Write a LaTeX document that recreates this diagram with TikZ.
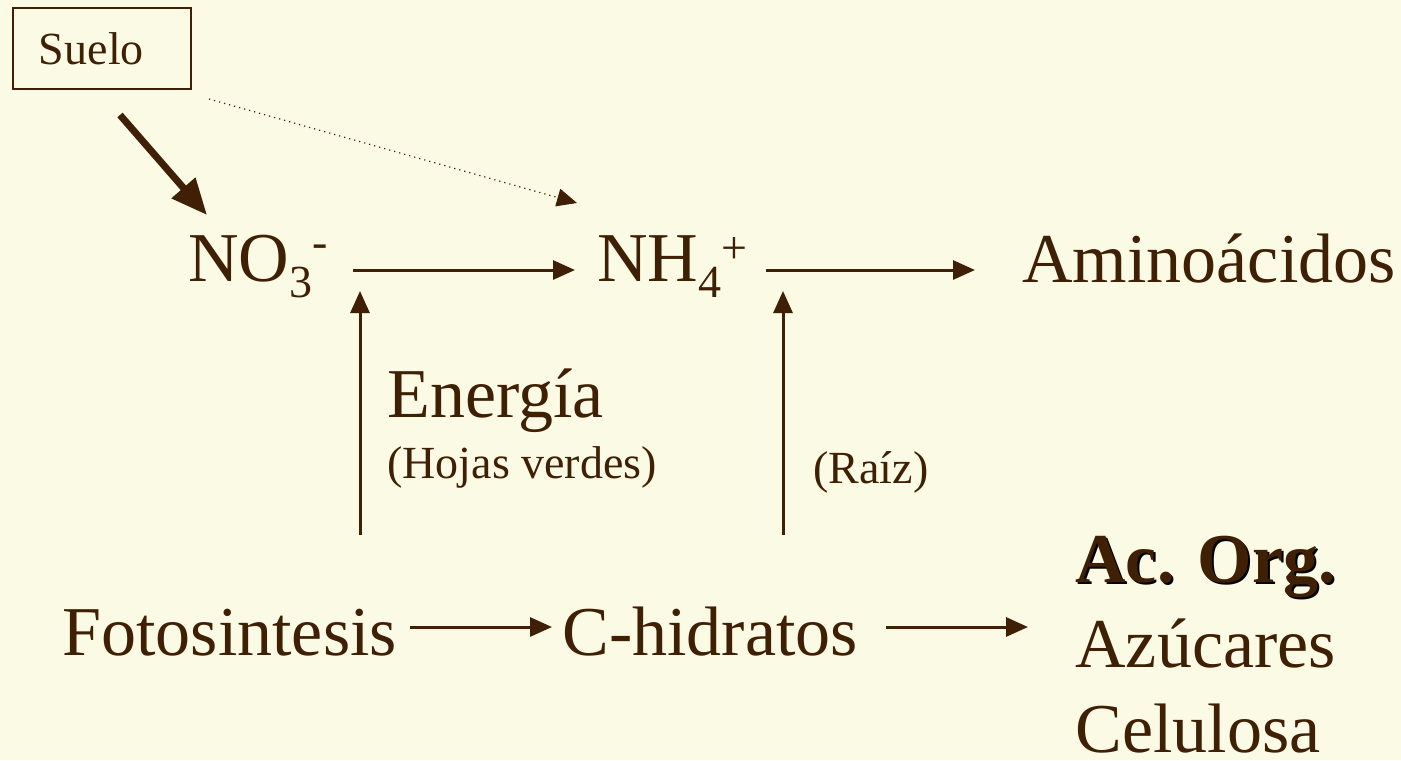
\documentclass[tikz,border=0pt]{standalone}
\usepackage{fontspec}
\setmainfont{Liberation Serif}
\usetikzlibrary{arrows.meta,calc}
\definecolor{bg}{RGB}{251,250,228}
\definecolor{ink}{RGB}{64,32,4}
\newcommand\mysub[1]{\raisebox{-0.23em}{\fontsize{23}{23}\selectfont #1}}
\newcommand\mysup[2]{\raisebox{#1}{\fontsize{23}{23}\selectfont #2}}
\begin{document}
\begin{tikzpicture}[x=0.5pt,y=-0.5pt,
  lbl/.style={anchor=base west, inner sep=0pt, text=ink, font=\fontsize{35}{42}\selectfont},
  small/.style={anchor=base west, inner sep=0pt, text=ink, font=\fontsize{23}{28}\selectfont},
  arr/.style={draw=ink, line width=1.5pt, -{Triangle[length=11pt,width=9.5pt]}},
  thickarr/.style={draw=ink, line width=3.5pt, -{Triangle[length=18pt,width=15pt]}},
  dotarr/.style={draw=ink, line width=0.6pt, dotted, -{Triangle[length=10pt,width=9pt]}},
  boxnode/.style={draw=ink, line width=1pt, anchor=north west, text=ink,
    font=\fontsize{23}{28}\selectfont, text width=63pt, inner xsep=13pt, inner ysep=0pt,
    minimum height=40.5pt, align=left}
]
\fill[bg] (0,0) rectangle (1401,760);
\useasboundingbox (0,0) rectangle (1401,760);

\node[boxnode] (suelo) at (12,7) {Suelo};

\node[lbl] (no3) at (188,281) {NO\mysub{3}\mysup{0.33em}{-}};
\node[lbl] (nh4) at (597,281) {NH\mysub{4}\mysup{0.25em}{+}};
\node[lbl] (amino) at (1022,282) {Aminoácidos};

\node[lbl] (energia) at (387,417) {Energía};
\node[small] (hojas) at (387,478) {(Hojas verdes)};
\node[small] (raiz) at (813,483) {(Raíz)};

\node[lbl] (foto) at (62,655) {Fotosintesis};
\node[lbl] (chid) at (562,655) {C-hidratos};

\node[lbl, text=black, font=\fontsize{35}{42}\selectfont\bfseries] (acshadow) at (1077,584) {Ac. Org.};
\node[lbl, font=\fontsize{35}{42}\selectfont\bfseries] (acorg) at (1075,582) {Ac. Org.};
\node[lbl] (azu) at (1075,667) {Azúcares};
\node[lbl] (celu) at (1075,752) {Celulosa};

% connectors
\draw[thickarr] ($(suelo.south west)+(108,25)$) -- ($(no3.base west)+(19,-66)$);
\draw[dotarr] ($(suelo.south east)+(17,9)$) -- ($(nh4.base west)+(-20,-78)$);

\draw[arr] ($(no3.base west)+(165,-11)$) -- ($(nh4.base west)+(-22,-11)$);
\draw[arr] ($(nh4.base west)+(169,-11)$) -- ($(amino.base west)+(-47,-12)$);

\draw[arr] ($(foto.base west)+(298,-120)$) -- ($(no3.base west)+(172,10)$);
\draw[arr] ($(chid.base west)+(221,-120)$) -- ($(nh4.base west)+(186,10)$);

\draw[arr] ($(foto.base west)+(348,-28)$) -- ($(chid.base west)+(-10,-28)$);
\draw[arr] ($(chid.base west)+(324,-28)$) -- ($(azu.base west)+(-47,-40)$);
\end{tikzpicture}
\end{document}
